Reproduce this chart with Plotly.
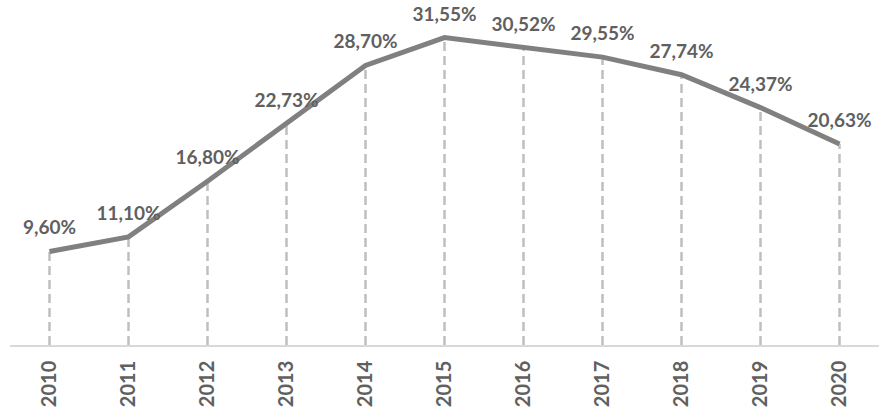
import plotly.graph_objects as go

years = ["2010", "2011", "2012", "2013", "2014", "2015", "2016", "2017", "2018", "2019", "2020"]
values = [9.60, 11.10, 16.80, 22.73, 28.70, 31.55, 30.52, 29.55, 27.74, 24.37, 20.63]
labels = [f"{v:.2f}%".replace(".", ",") for v in values]

FONT = "Lato"
TEXT_COLOR = "#606060"

drop_x, drop_y = [], []
for yr, v in zip(years, values):
    drop_x += [yr, yr, None]
    drop_y += [0, v, None]

fig = go.Figure()
fig.add_trace(go.Scatter(
    x=drop_x, y=drop_y, mode="lines",
    line=dict(color="#bfbfbf", width=2.5, dash="9px,5px"),
    hoverinfo="skip", showlegend=False,
))
fig.add_trace(go.Scatter(
    x=years, y=values, mode="lines",
    line=dict(color="#808080", width=5),
    showlegend=False,
))
fig.add_trace(go.Scatter(
    x=years, y=values, mode="markers+text",
    marker=dict(size=18, color="rgba(0,0,0,0)"),
    text=labels, textposition="top center",
    textfont=dict(family=FONT, size=19, color=TEXT_COLOR, weight="bold"),
    cliponaxis=False, hoverinfo="skip", showlegend=False,
))

fig.update_layout(
    width=879, height=414,
    margin=dict(l=10, r=0, t=4, b=69, autoexpand=False),
    paper_bgcolor="white", plot_bgcolor="white",
    font=dict(family=FONT, color=TEXT_COLOR),
    xaxis=dict(
        type="category", range=[-0.5, 10.5],
        showgrid=False, zeroline=False,
        showline=True, linecolor="#d9d9d9", linewidth=1.5,
        ticks="", tickangle=-90, automargin=False,
        ticklabelstandoff=6,
        tickfont=dict(family=FONT, size=20, color=TEXT_COLOR, weight="bold"),
    ),
    yaxis=dict(
        range=[0, 35], showgrid=False, zeroline=False,
        showticklabels=False, showline=False, ticks="",
    ),
)

fig.write_html(
    "out.html",
    config={"displayModeBar": False},
    post_script="document.body.style.margin='0';document.body.style.overflow='hidden';",
)
